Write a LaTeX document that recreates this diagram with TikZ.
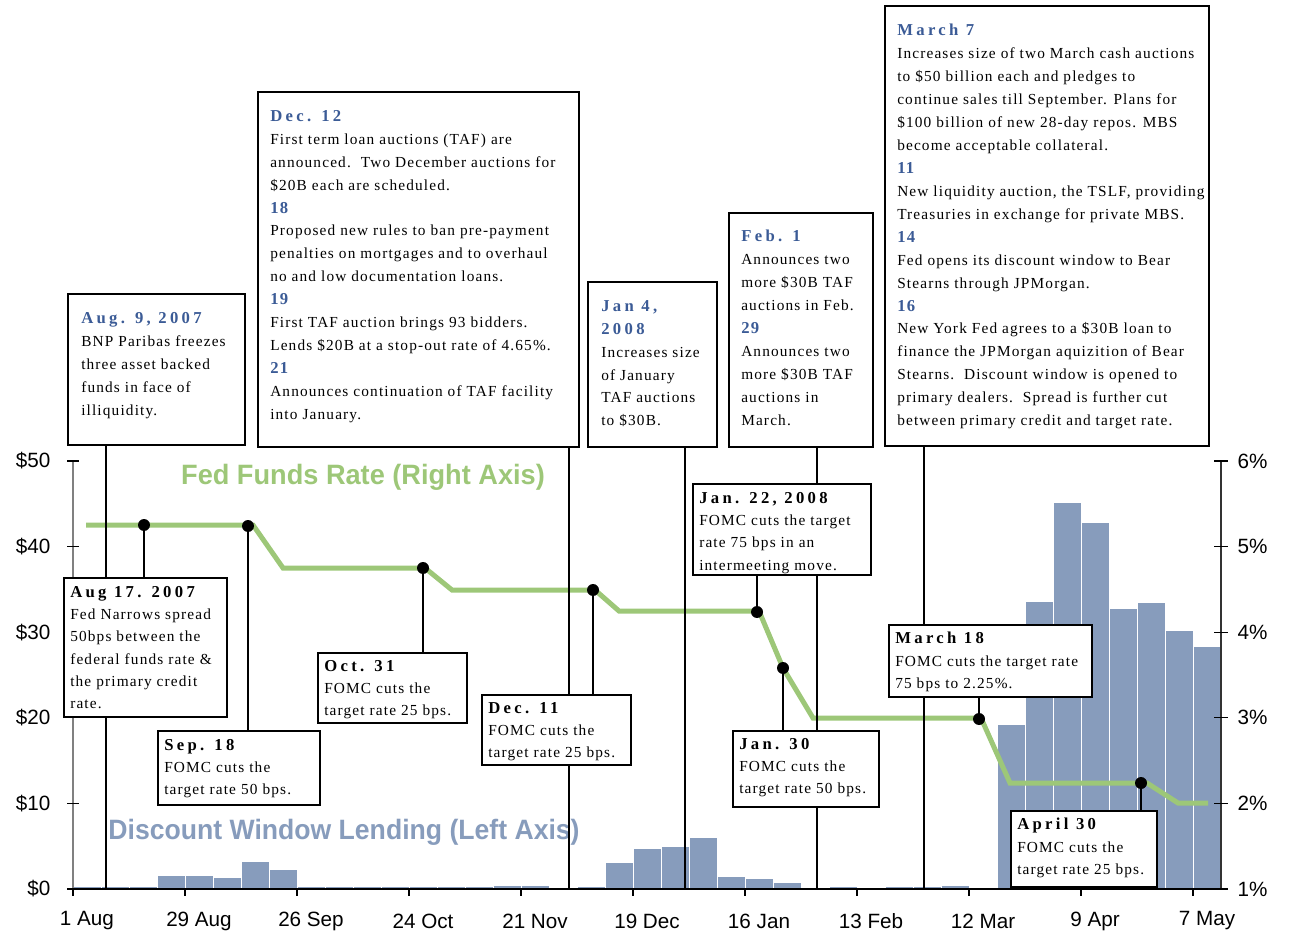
\documentclass[tikz,border=0pt]{standalone}
\usepackage{fontspec}
\setmainfont{Liberation Serif}
\setsansfont{Liberation Sans}
\newfontfamily\bodyfont[LetterSpace=7.5]{Liberation Serif}
\newfontfamily\datefont[LetterSpace=20]{Liberation Serif}
\usetikzlibrary{fit}
\definecolor{fedgreen}{RGB}{157,199,120}
\definecolor{dwblue}{RGB}{135,156,188}
\definecolor{headblue}{RGB}{59,91,150}
\newcommand{\hd}[1]{{\datefont\bfseries\fontsize{12.5}{17}\selectfont #1}}
\newcommand{\bluehd}[1]{{\color{headblue}\datefont\bfseries\fontsize{12.5}{17}\selectfont #1}}
\newcommand{\dayno}[1]{{\color{headblue}\bfseries\fontsize{12.5}{17}\selectfont #1}}
\begin{document}
\begin{tikzpicture}[x=0.75pt,y=-0.75pt,
  evbox/.style={draw,line width=1.5pt,fill=white,inner sep=0pt},
  evtext/.style={anchor=north west,inner sep=0pt,align=left,
    font=\bodyfont\fontsize{11.5}{17.2}\selectfont},
  fomctext/.style={evtext,font=\bodyfont\fontsize{11.5}{16.7}\selectfont},
  dot/.style={circle,fill=black,inner sep=0pt,minimum size=9pt},
  conn/.style={line width=1.5pt},
  ffrline/.style={fedgreen,line width=3.75pt},
  axlabel/.style={font=\sffamily\fontsize{15.5}{16}\selectfont},
  title/.style={font=\sffamily\bfseries\fontsize{21}{21}\selectfont}]
\useasboundingbox (0,0) rectangle (1290,934);

% weekly discount window lending
\foreach \k/\v in {0/0.2,1/0.2,2/0.2,3/1.5,4/1.5,5/1.3,6/3.2,7/2.2,8/0.2,
  9/0.2,10/0.2,11/0.2,12/0.2,13/0.2,14/0.2,15/0.4,16/0.4,18/0.2,
  19/3.0,20/4.7,21/4.9,22/5.9,23/1.4,24/1.2,25/0.7,27/0.2,29/0.2,30/0.2,
  31/0.4,33/19.2,34/33.5,35/45.1,36/42.8,37/32.7,38/33.4,39/30.1,40/28.3}
  \fill[dwblue] ({73.5+28*\k},889) rectangle ({100.5+28*\k},{889-8.56*\v});

% axes
\draw[gray,line width=0.8pt] (73,461) -- (73,889);
\draw[black!80,line width=0.8pt] (1221,461) -- (1221,889);
\draw[line width=1pt] (73,889) -- (1221,889);
\foreach \k in {0,...,5} {
  \draw[line width=0.8pt] (67,{889-85.6*\k}) -- (79,{889-85.6*\k});
  \draw[line width=0.8pt] (1214,{889-85.6*\k}) -- (1228,{889-85.6*\k});
}
\foreach \k/\lab in {0/\$0,1/\$10,2/\$20,3/\$30,4/\$40,5/\$50}
  \node[axlabel,anchor=east] (yl-\k) at (55,{889-85.6*\k}) {\lab};
\foreach \k/\lab in {0/1\%,1/2\%,2/3\%,3/4\%,4/5\%,5/6\%}
  \node[axlabel,anchor=west] (yr-\k) at (1233,{889-85.6*\k}) {\lab};
\foreach \k/\lab in {0/1 Aug,1/29 Aug,2/26 Sep,3/24 Oct,4/21 Nov,5/19 Dec,
  6/16 Jan,7/13 Feb,8/12 Mar,9/9 Apr,10/7 May} {
  \draw[line width=0.8pt] ({73+112*\k},889) -- ({73+112*\k},896);
  \node[axlabel] (xl-\k) at ({87+112*\k},921) {\lab};
}

\node[title,text=fedgreen] (ffr-title) at (363,477)
  {\scalebox{0.97}[1]{Fed Funds Rate (Right Axis)}};
\node[title,text=dwblue] (dw-title) at (344,832)
  {\scalebox{0.95}[1]{Discount Window Lending (Left Axis)}};

% fed funds target
\draw[ffrline] (86,525) -- (253,525) -- (283,568) -- (425,568) -- (452,590)
  -- (595,590) -- (619,611) -- (759,611) -- (783,668) -- (813,718)
  -- (981,718) -- (1010,783) -- (1147,783) -- (1178,803) -- (1208,803);

% rate change points
\node[dot] (p-aug17) at (144,525) {};
\node[dot] (p-sep18) at (248,526) {};
\node[dot] (p-oct31) at (423,568) {};
\node[dot] (p-dec11) at (593,590) {};
\node[dot] (p-jan22) at (757,612) {};
\node[dot] (p-jan30) at (783,668) {};
\node[dot] (p-mar18) at (979,719) {};
\node[dot] (p-apr30) at (1141,783) {};

% ends of the long connectors on the time axis
\coordinate (l-aug9) at (106,889);
\coordinate (l-dec12) at (569,889);
\coordinate (l-jan4) at (685,889);
\coordinate (l-feb1) at (817,889);
\coordinate (l-mar7) at (924,889);

% top boxes
\node[evbox,fit={(68,294) (245,445)}] (aug9) {};
\node[evbox,fit={(258,92) (579,447)}] (dec12) {};
\node[evbox,fit={(588,282) (717,447)}] (jan4) {};
\node[evbox,fit={(729,213) (873,447)}] (feb1) {};
\node[evbox,fit={(885,6) (1209,446)}] (mar7) {};
\draw[conn] (aug9.south -| l-aug9) -- (l-aug9);
\draw[conn] (dec12.south -| l-dec12) -- (l-dec12);
\draw[conn] (jan4.south -| l-jan4) -- (l-jan4);
\draw[conn] (feb1.south -| l-feb1) -- (l-feb1);
\draw[conn] (mar7.south -| l-mar7) -- (l-mar7);

% FOMC boxes
\node[evbox,fit={(64,578) (227,717)}] (aug17) {};
\node[evbox,fit={(158,731) (320,805)}] (sep18) {};
\node[evbox,fit={(318,653) (467,723)}] (oct31) {};
\node[evbox,fit={(482,695) (631,765)}] (dec11) {};
\node[evbox,fit={(693,484) (871,575)}] (jan22) {};
\node[evbox,fit={(733,731) (879,807)}] (jan30) {};
\node[evbox,fit={(889,625) (1092,697)}] (mar18) {};
\node[evbox,fit={(1011,811) (1157,887)}] (apr30) {};
\draw[conn] (p-aug17) -- (p-aug17 |- aug17.north);
\draw[conn] (p-sep18) -- (p-sep18 |- sep18.north);
\draw[conn] (p-oct31) -- (p-oct31 |- oct31.north);
\draw[conn] (p-dec11) -- (p-dec11 |- dec11.north);
\draw[conn] (p-jan22) -- (p-jan22 |- jan22.south);
\draw[conn] (p-jan30) -- (p-jan30 |- jan30.north);
\draw[conn] (p-mar18) -- (p-mar18 |- mar18.south);
\draw[conn] (p-apr30) -- (p-apr30 |- apr30.north);

% texts
\node[evtext] (aug9-t) at (81,312) {\bluehd{Aug. 9, 2007}\\
  BNP Paribas freezes\\ three asset backed\\ funds in face of\\ illiquidity.};
\node[evtext] (dec12-t) at (270,110) {\bluehd{Dec. 12}\\
  First term loan auctions (TAF) are\\
  announced.\ \ Two December auctions for\\
  \$20B each are scheduled.\\ \dayno{18}\\
  Proposed new rules to ban pre-payment\\
  penalties on mortgages and to overhaul\\
  no and low documentation loans.\\ \dayno{19}\\
  First TAF auction brings 93 bidders.\\
  Lends \$20B at a stop-out rate of 4.65\%.\\ \dayno{21}\\
  Announces continuation of TAF facility\\ into January.};
\node[evtext] (jan4-t) at (601,300) {\bluehd{Jan 4,}\\ \bluehd{2008}\\
  Increases size\\ of January\\ TAF auctions\\ to \$30B.};
\node[evtext] (feb1-t) at (741,230) {\bluehd{Feb. 1}\\
  Announces two\\ more \$30B TAF\\ auctions in Feb.\\ \dayno{29}\\
  Announces two\\ more \$30B TAF\\ auctions in\\ March.};
\node[evtext] (mar7-t) at (897,24) {\bluehd{March 7}\\
  Increases size of two March cash auctions\\
  to \$50 billion each and pledges to\\
  continue sales till September. Plans for\\
  \$100 billion of new 28-day repos. MBS\\
  become acceptable collateral.\\ \dayno{11}\\
  New liquidity auction, the TSLF, providing\\
  Treasuries in exchange for private MBS.\\ \dayno{14}\\
  Fed opens its discount window to Bear\\
  Stearns through JPMorgan.\\ \dayno{16}\\
  New York Fed agrees to a \$30B loan to\\
  finance the JPMorgan aquizition of Bear\\
  Stearns.\ \ Discount window is opened to\\
  primary dealers.\ \ Spread is further cut\\
  between primary credit and target rate.};
\node[fomctext] (aug17-t) at (70,586) {\hd{Aug 17. 2007}\\
  Fed Narrows spread\\ 50bps between the\\ federal funds rate \&\\
  the primary credit\\ rate.};
\node[fomctext] (sep18-t) at (164,739) {\hd{Sep. 18}\\
  FOMC cuts the\\ target rate 50 bps.};
\node[fomctext] (oct31-t) at (324,660) {\hd{Oct. 31}\\
  FOMC cuts the\\ target rate 25 bps.};
\node[fomctext] (dec11-t) at (488,702) {\hd{Dec. 11}\\
  FOMC cuts the\\ target rate 25 bps.};
\node[fomctext] (jan22-t) at (699,492) {\hd{Jan. 22, 2008}\\
  FOMC cuts the target\\ rate 75 bps in an\\ intermeeting move.};
\node[fomctext] (jan30-t) at (739,738) {\hd{Jan. 30}\\
  FOMC cuts the\\ target rate 50 bps.};
\node[fomctext] (mar18-t) at (895,632) {\hd{March 18}\\
  FOMC cuts the target rate\\ 75 bps to 2.25\%.};
\node[fomctext] (apr30-t) at (1017,818) {\hd{April 30}\\
  FOMC cuts the\\ target rate 25 bps.};
\end{tikzpicture}
\end{document}
